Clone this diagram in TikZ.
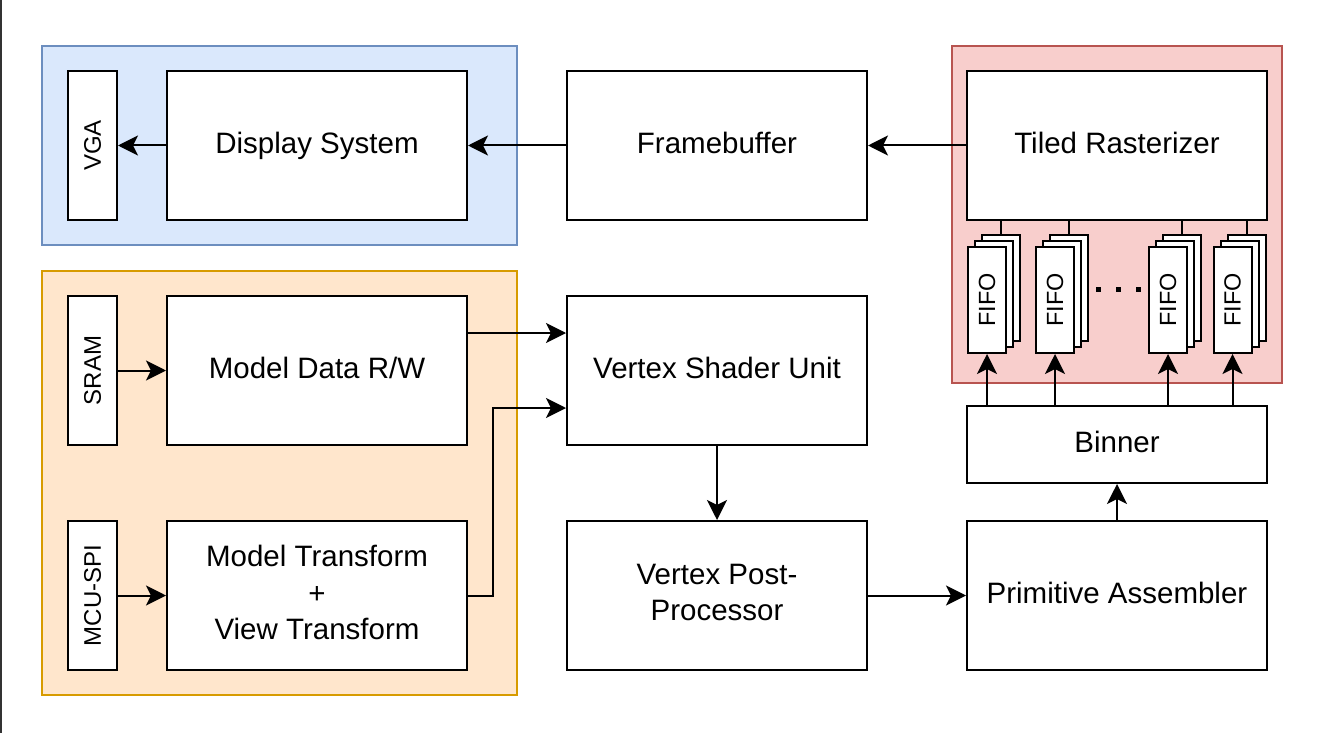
\documentclass[tikz,border=0pt]{standalone}
\usepackage{fontspec}
\setmainfont{Liberation Sans}
\usetikzlibrary{arrows.meta}

\definecolor{blueFill}{HTML}{DAE8FC}
\definecolor{blueLine}{HTML}{6C8EBF}
\definecolor{redFill}{HTML}{F8CECC}
\definecolor{redLine}{HTML}{B85450}
\definecolor{orangeFill}{HTML}{FFE6CC}
\definecolor{orangeLine}{HTML}{D79B00}

\begin{document}
\begin{tikzpicture}[x=0.5pt,y=-0.5pt,
    block/.style={draw=black,fill=white,line width=1pt,inner sep=0pt,
        minimum width=150pt,minimum height=74.5pt,align=center,text depth=3.1pt,
        font=\fontsize{14.75}{18.3}\selectfont},
    port/.style={draw=black,fill=white,line width=1pt,inner sep=0pt,
        minimum width=24.5pt,minimum height=74.5pt,
        font=\fontsize{12}{14}\selectfont},
    fifo/.style={draw=black,fill=white,line width=1pt,inner sep=0pt,
        minimum width=19pt,minimum height=53pt},
    arr/.style={line width=1pt,-{Stealth[length=10pt,width=10pt,inset=2.5pt]}}]
    \useasboundingbox (0,0) rectangle (1328,733);
    \draw [black!80,line width=1pt] (1,0) -- (1,733);
    % group frames
    \draw [blueLine,fill=blueFill,line width=1pt] (42,46) rectangle (517,245);
    \draw [redLine,fill=redFill,line width=1pt] (952,46) rectangle (1282,383);
    \draw [orangeLine,fill=orangeFill,line width=1pt] (42,271) rectangle (517,695);
    % top row
    \node [port] (vga) at (92.5,145.5) {\rotatebox{90}{VGA}};
    \node [block] (disp) at (317,145.5) {Display System};
    \node [block] (fbuf) at (717,145.5) {Framebuffer};
    \node [block] (tiled) at (1117,145.5) {Tiled Rasterizer};
    % middle row
    \node [port] (sram) at (92.5,370.5) {\rotatebox{90}{SRAM}};
    \node [block] (mdata) at (317,370.5) {Model Data R/W};
    \node [block] (vshader) at (717,370.5) {Vertex Shader Unit};
    \node [block,minimum height=38.5pt] (binner) at (1117,444.5) {Binner};
    % bottom row
    \node [port] (mcu) at (92.5,595.5) {\rotatebox{90}{MCU-SPI}};
    \node [block] (mtrans) at (317,595.5) {Model Transform\\+\\View Transform};
    \node [block] (vpost) at (717,595.5) {Vertex Post-\\Processor};
    \node [block] (prim) at (1117,595.5) {Primitive Assembler};
    % fifo stacks
    \foreach \n/\x in {1/987,2/1055,3/1168,4/1232.5} {
        \node [fifo] (f\n c) at (\x+14,288) {};
        \node [fifo] (f\n b) at (\x+7,294) {};
        \node [fifo,font=\fontsize{11.7}{14}\selectfont] (f\n) at (\x,300) {\rotatebox{90}{FIFO}};
        \draw [line width=1pt] (f\n c.north) -- (f\n c.north |- tiled.south);
        \draw [arr] (binner.north -| f\n.south) -- (f\n.south);
    }
    \foreach \x in {1098,1118,1138}
        \fill (\x-2.5,286.5) rectangle ++(5,5);
    % connectors
    \draw [arr] (disp) -- (vga);
    \draw [arr] (fbuf) -- (disp);
    \draw [arr] (tiled) -- (fbuf);
    \draw [arr] (sram) -- (mdata);
    \draw [arr] (mcu) -- (mtrans);
    \draw [arr] ([yshift=18.75pt]mdata.east) -- ([yshift=18.75pt]vshader.west);
    \draw [arr] (mtrans.east) -- ++(25,0) |- ([yshift=-18.75pt]vshader.west);
    \draw [arr] (vshader) -- (vpost);
    \draw [arr] (vpost) -- (prim);
    \draw [arr] (prim) -- (binner);
\end{tikzpicture}
\end{document}
